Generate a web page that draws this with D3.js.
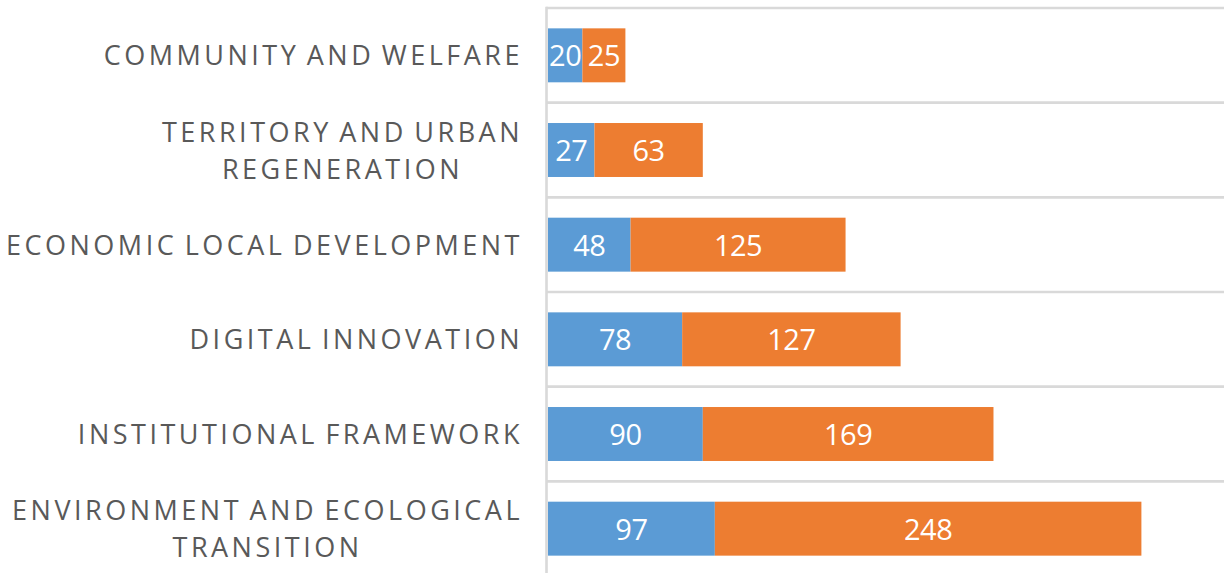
<!DOCTYPE html>
<html>
<head>
<meta charset="utf-8">
<script src="https://cdn.jsdelivr.net/npm/d3@7"></script>
<style>
  body { margin: 0; background: #fff; }
  svg { display: block; }
</style>
</head>
<body>
<svg id="chart" width="1224" height="573"></svg>
<script>
// categories top to bottom, each one split in lines as drawn
var categories = [
  ["COMMUNITY AND WELFARE"],
  ["TERRITORY AND URBAN", "REGENERATION"],
  ["ECONOMIC LOCAL DEVELOPMENT"],
  ["DIGITAL INNOVATION"],
  ["INSTITUTIONAL FRAMEWORK"],
  ["ENVIRONMENT AND ECOLOGICAL", "TRANSITION"]
];
var blueValues = [20, 27, 48, 78, 90, 97];
var orangeValues = [25, 63, 125, 127, 169, 248];
var seriesColors = ["#5b9bd5", "#ed7d31"];

var svg = d3.select("#chart"),
    width = +svg.attr("width"),
    height = +svg.attr("height");

var keys = categories.map(function(c){ return c.join(" "); });
var rows = keys.map(function(k, i){
  return { key: k, lines: categories[i], a: blueValues[i], b: orangeValues[i] };
});

var x = d3.scaleLinear().domain([0, 400]).range([548, 1236]);
var y = d3.scaleBand().domain(keys).range([8, 576])
          .paddingInner(0.43).paddingOuter(0.215);

// gridlines between categories
var step = y.step();
var edges = d3.range(keys.length + 1).map(function(i){ return 8 + i * step; });
svg.append("g").selectAll("line")
   .data(edges).enter().append("line")
   .attr("x1", 546).attr("x2", width)
   .attr("y1", function(d){ return d; })
   .attr("y2", function(d){ return d; })
   .attr("stroke", "#d9d9d9")
   .attr("stroke-width", 2.6);

// vertical category axis
svg.append("line")
   .attr("x1", 546.5).attr("x2", 546.5)
   .attr("y1", 6.7).attr("y2", height)
   .attr("stroke", "#d9d9d9")
   .attr("stroke-width", 2.6);

var stack = d3.stack().keys(["a", "b"])(rows);

var layer = svg.selectAll(".layer")
   .data(stack).enter().append("g")
   .attr("class", "layer")
   .attr("fill", function(d, i){ return seriesColors[i]; });

layer.selectAll("rect")
   .data(function(d){ return d; })
   .enter().append("rect")
   .attr("x", function(d){ return x(d[0]); })
   .attr("width", function(d){ return x(d[1]) - x(d[0]); })
   .attr("y", function(d){ return y(d.data.key); })
   .attr("height", y.bandwidth());

layer.selectAll("text")
   .data(function(d){ return d; })
   .enter().append("text")
   .attr("x", function(d){ return (x(d[0]) + x(d[1])) / 2; })
   .attr("y", function(d){ return y(d.data.key) + y.bandwidth() / 2 + 11; })
   .attr("text-anchor", "middle")
   .attr("fill", "#fff")
   .attr("font-family", "'Open Sans', sans-serif")
   .attr("font-size", "29px")
   .attr("letter-spacing", "-0.5px")
   .text(function(d){ return d[1] - d[0]; });

// category labels, multi-line ones centred under their longest line
var labelRight = 523, lineH = 37;
var lab = svg.append("g").selectAll("g")
   .data(rows).enter().append("g");

lab.each(function(d){
  var g = d3.select(this);
  var cy = y(d.key) + y.bandwidth() / 2;
  var n = d.lines.length;
  var texts = d.lines.map(function(line, i){
    return g.append("text")
      .attr("y", cy + 10 + (i - (n - 1) / 2) * lineH)
      .attr("fill", "#595959")
      .attr("font-family", "'Open Sans', sans-serif")
      .attr("font-size", "27px")
      .attr("letter-spacing", "3.5px")
      .attr("word-spacing", "-3px")
      .text(line);
  });
  var w = d3.max(texts, function(t){ return t.node().getComputedTextLength(); });
  texts.forEach(function(t){
    t.attr("x", labelRight - w / 2).attr("text-anchor", "middle");
  });
});
</script>
</body>
</html>
